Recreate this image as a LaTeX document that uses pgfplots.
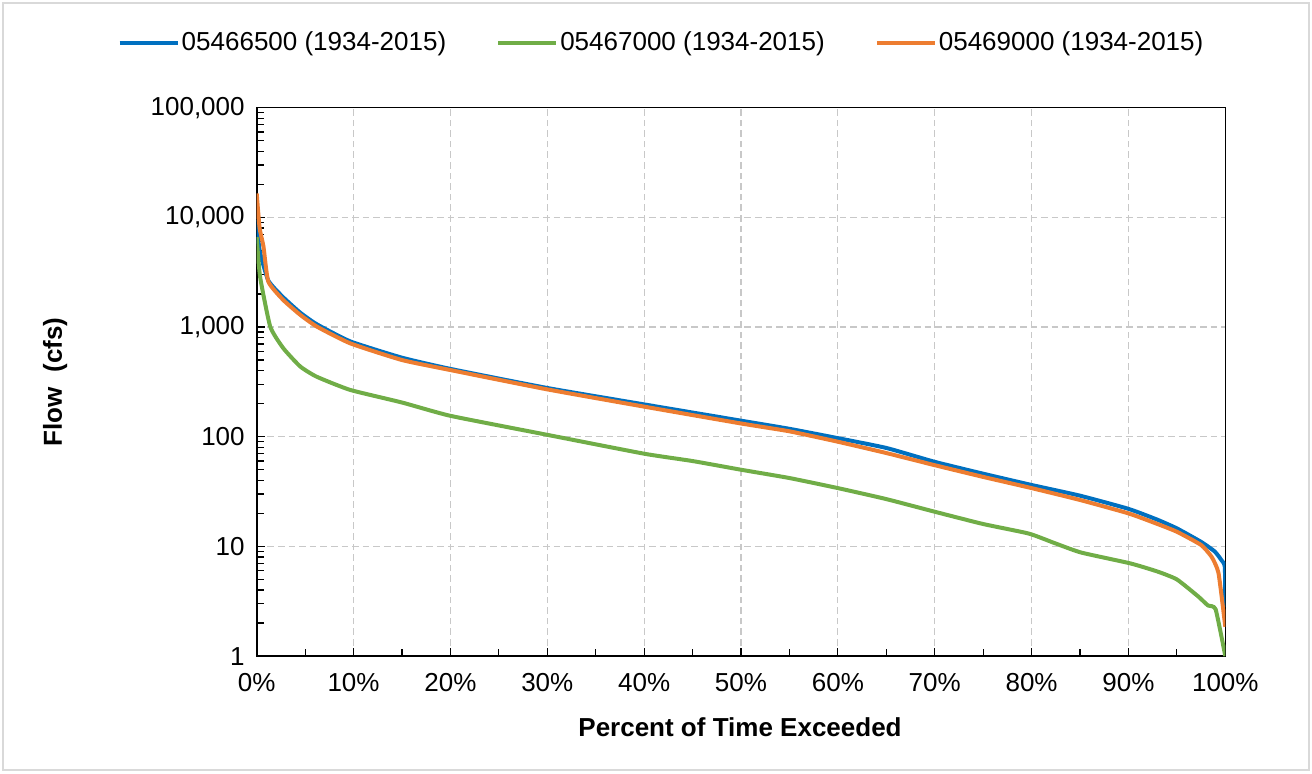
\documentclass[border=0pt]{standalone}
\usepackage{pgfplots}
\pgfplotsset{compat=1.18}
\usepackage{fontspec}
\setmainfont{Liberation Sans}
\definecolor{cblue}{HTML}{0070C0}
\definecolor{cgreen}{HTML}{70AD47}
\definecolor{corange}{HTML}{ED7D31}
\definecolor{gridc}{HTML}{C8C8C8}
\definecolor{framec}{HTML}{D9D9D9}
\begin{document}
\fontsize{13}{15.6}\selectfont
\begin{tikzpicture}
\useasboundingbox (0pt,0pt) rectangle (656pt,386.5pt);
\draw[framec, line width=0.75pt] (1.5pt,1.5pt) rectangle (654.5pt,385pt);
\begin{axis}[
  at={(128.35pt,58.45pt)}, anchor=south west,
  scale only axis, width=484.3pt, height=274.25pt,
  ymode=log, xmin=0, xmax=100, ymin=1, ymax=100000,
  xtick={0,10,...,100}, minor xtick={5,15,...,95},
  xticklabels={0\%,10\%,20\%,30\%,40\%,50\%,60\%,70\%,80\%,90\%,100\%},
  ytick={1,10,100,1000,10000,100000},
  yticklabels={1,10,100,{1,000},{10,000},{100,000}},
  tick align=inside, xtick pos=bottom, ytick pos=left,
  major tick length=4pt, minor tick length=3.5pt,
  tick style={black, line width=0.6pt},
  axis line style={black, line width=0.8pt},
  grid=major,
  major grid style={gridc, line width=0.6pt, dash pattern=on 3.3pt off 2pt},
  tick label style={font=\fontsize{13}{15.6}\selectfont},
  xticklabel shift=4pt, yticklabel shift=1.5pt,
  xlabel={\textbf{Percent of Time Exceeded}},
  ylabel={\textbf{Flow\ \ (cfs)}},
  label style={font=\fontsize{13}{15.6}\selectfont},
  xlabel style={at={(axis description cs:0.499,-0.1293)}, anchor=center},
  ylabel style={at={(axis description cs:-0.2082,0.5)}, anchor=center},
  legend columns=3,
  legend style={at={(axis description cs:0.418,1.1178)}, anchor=center, draw=none, fill=none,
    inner sep=0pt, font=\fontsize{13}{15.6}\selectfont,
    nodes={inner sep=1pt},
    /tikz/every even column/.append style={column sep=24pt}},
  legend image code/.code={\draw[#1] (0pt,0pt) -- (29pt,0pt);},
  every axis plot/.append style={line width=2pt, line join=round, smooth, tension=0.3},
]
\addplot[cblue] coordinates {
(0,9500) (0.3,5000) (1.2,2650) (2.75,1860) (4.5,1350) (6.2,1060) (9.65,740)
(15,525) (20,415) (30,278) (40,197) (50,140) (55,118) (60,97) (65,79) (70,59)
(75,46) (80,36.3) (85,29) (90,22) (93,17.5) (95,14.6) (97.5,11) (98.9,9)
(99.6,7.5) (99.95,6.5) (100,2.8)};
\addlegendentry{05466500 (1934-2015)}
\addplot[cgreen] coordinates {
(0,6600) (0.35,2870) (1.4,1006) (2.75,640) (4.5,436) (6.2,352) (9.65,267)
(15,205) (20,155) (30,104) (40,70) (45,60) (50,50) (55,42) (60,34) (65,27)
(70,20.7) (75,16) (79.7,13.1) (82.4,10.7) (85.1,8.8) (90.2,7) (93,5.9) (95,5)
(97.2,3.5) (98.2,2.9) (99,2.67) (100,1)};
\addlegendentry{05467000 (1934-2015)}
\addplot[corange] coordinates {
(0,16500) (0.3,8000) (0.7,5400) (1.2,2590) (2.75,1760) (4.5,1290) (6.2,1010)
(9.65,710) (15,500) (20,405) (30,270) (40,188) (50,132) (55,112) (60,90) (65,71)
(70,55) (75,43) (80,34) (85,26.5) (90,20) (93,16) (95,13.6) (97.5,10.3)
(98.6,8) (99.3,5.7) (100,1.85)};
\addlegendentry{05469000 (1934-2015)}
\end{axis}
\end{tikzpicture}
\end{document}
